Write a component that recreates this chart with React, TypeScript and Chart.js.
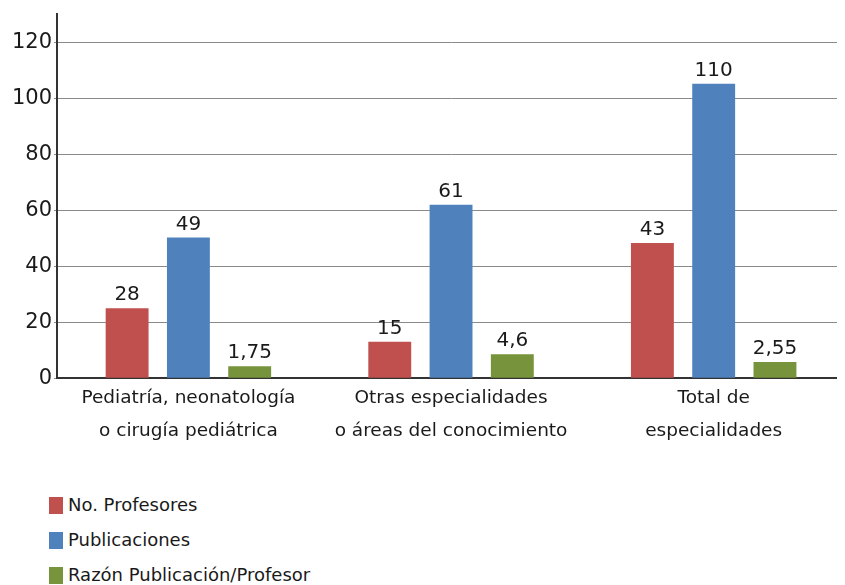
import { useEffect, useRef } from "react";
import { Chart, registerables } from "chart.js";

Chart.register(...registerables);

const categories: string[][] = [
  ["Pediatría, neonatología", "o cirugía pediátrica"],
  ["Otras especialidades", "o áreas del conocimiento"],
  ["Total de", "especialidades"],
];
const seriesNames = ["No. Profesores", "Publicaciones", "Razón Publicación/Profesor"];
const seriesColors = ["#C0504D", "#4F81BD", "#77933C"];
const profesores = [25, 13, 48.3];
const publicaciones = [50.3, 62, 105.2];
const razon = [4.3, 8.6, 5.8];
const profesoresLabels = ["28", "15", "43"];
const publicacionesLabels = ["49", "61", "110"];
const razonLabels = ["1,75", "4,6", "2,55"];
const yTicks = [0, 20, 40, 60, 80, 100, 120];
const yMax = 130;

const FONT = "'DejaVu Sans', Verdana, sans-serif";
const allLabels = [profesoresLabels, publicacionesLabels, razonLabels];

const dataLabelPlugin = {
  id: "dataLabels",
  afterDatasetsDraw(chart: any) {
    const ctx = chart.ctx;
    ctx.save();
    ctx.font = `20px ${FONT}`;
    ctx.fillStyle = "#1a1a1a";
    ctx.textAlign = "center";
    ctx.textBaseline = "bottom";
    chart.data.datasets.forEach((_ds: any, di: number) => {
      const meta = chart.getDatasetMeta(di);
      meta.data.forEach((el: any, i: number) => {
        ctx.fillText(allLabels[di][i], el.x, el.y - 3);
      });
    });
    ctx.restore();
  },
};

export default function App() {
  const ref = useRef<HTMLCanvasElement>(null);

  useEffect(() => {
    document.body.style.overflow = "hidden";
    const chart = new Chart(ref.current!, {
      type: "bar",
      data: {
        labels: categories,
        datasets: [profesores, publicaciones, razon].map((d, i) => ({
          label: seriesNames[i],
          data: d,
          backgroundColor: seriesColors[i],
          borderWidth: 0,
          categoryPercentage: 0.7,
          barPercentage: 0.7,
        })),
      },
      options: {
        animation: false,
        responsive: false,
        layout: { padding: { left: 2, top: 6, right: 0, bottom: 2 } },
        plugins: {
          legend: { display: false },
          tooltip: { enabled: false },
        },
        scales: {
          x: {
            grid: { display: false, drawTicks: false },
            border: { color: "#333", width: 2 },
            ticks: {
              autoSkip: false,
              maxRotation: 0,
              padding: 4,
              color: "#1a1a1a",
              font: { family: FONT, size: 18.5, lineHeight: 1.75 },
            },
          },
          y: {
            min: 0,
            max: yMax,
            afterBuildTicks: (axis: any) => {
              axis.ticks = yTicks.map((v) => ({ value: v }));
            },
            grid: { color: "#8a8a8a", lineWidth: 1, tickLength: 3, drawTicks: true },
            border: { color: "#333", width: 2 },
            ticks: {
              padding: 2,
              color: "#1a1a1a",
              font: { family: FONT, size: 21, lineHeight: 0.4 },
            },
          },
        },
      },
      plugins: [dataLabelPlugin],
    });
    return () => chart.destroy();
  }, []);

  return (
    <div style={{ position: "relative", width: 837, height: 577 }}>
      <canvas ref={ref} width={837} height={445} style={{ display: "block" }} />
      {seriesNames.map((name, i) => (
        <div
          key={name}
          style={{
            position: "absolute",
            left: 41,
            top: 488 + i * 35,
            height: 18,
            display: "flex",
            alignItems: "center",
            fontFamily: FONT,
            fontSize: 18,
            lineHeight: "18px",
            color: "#1a1a1a",
            whiteSpace: "nowrap",
          }}
        >
          <span
            style={{
              display: "inline-block",
              width: 14,
              height: 17,
              background: seriesColors[i],
              marginRight: 5,
            }}
          />
          {name}
        </div>
      ))}
    </div>
  );
}
